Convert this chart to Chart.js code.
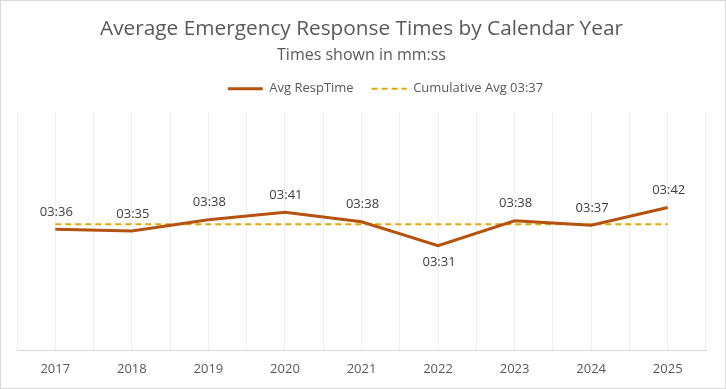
<!DOCTYPE html>
<html>
<head>
<meta charset="utf-8">
<script src="https://cdn.jsdelivr.net/npm/chart.js@4/dist/chart.umd.min.js"></script>
<style>
  html, body { margin: 0; padding: 0; background: #fff; }
  #wrap { width: 726px; height: 389px; box-sizing: border-box; border: 1px solid #d9d9d9; background: #fff; }
  #chartContainer { display: block; }
</style>
</head>
<body>
<div id="wrap"><canvas id="chartContainer" width="724" height="387"></canvas></div>
<script>
// years on the x axis
const years = ['2017', '2018', '2019', '2020', '2021', '2022', '2023', '2024', '2025'];
// average response time per year, in seconds (03:36 = 216 s)
const avgRespTime = [215.6, 215.1, 218.4, 220.6, 217.8, 210.8, 218.1, 216.8, 222.0];
// cumulative average, seconds (03:37)
const cumulativeAvg = [217.1, 217.1, 217.1, 217.1, 217.1, 217.1, 217.1, 217.1, 217.1];

const lineColor = '#b5520e';
const avgColor = '#e6a600';
const textColor = '#595959';

// seconds -> mm:ss
function fmt(sec) {
    let s = Math.round(sec);
    let m = Math.floor(s / 60);
    s = s % 60;
    return String(m).padStart(2, '0') + ':' + String(s).padStart(2, '0');
}

// draws the value labels over the main line
const valueLabels = {
    id: 'valueLabels',
    afterDatasetsDraw(chart, args, opts) {
        const ctx = chart.ctx;
        const meta = chart.getDatasetMeta(0);
        ctx.save();
        ctx.font = '13px "Open Sans", sans-serif';
        ctx.fillStyle = '#404040';
        ctx.textAlign = 'center';
        ctx.textBaseline = 'middle';
        meta.data.forEach((pt, i) => {
            let below = opts.below.includes(i);
            ctx.fillText(fmt(avgRespTime[i]), pt.x + 1, pt.y + (below ? 17 : -17));
        });
        ctx.restore();
    }
};

// legend tweaks: height under it, and nudge it right like the original
const legendSpace = {
    id: 'legendSpace',
    beforeInit(chart) {
        const origFit = chart.legend.fit;
        chart.legend.fit = function () {
            origFit.bind(chart.legend)();
            this.height += 7;
        };
    },
    afterLayout(chart) {
        chart.legend.left += 24;
        chart.legend.right += 24;
    }
};

const chart = new Chart(document.getElementById('chartContainer'), {
    type: 'line',
    data: {
        labels: years,
        datasets: [
            {
                label: 'Avg RespTime',
                data: avgRespTime,
                borderColor: lineColor,
                backgroundColor: lineColor,
                borderWidth: 3,
                pointRadius: 0,
                tension: 0,
                fill: false
            },
            {
                label: 'Cumulative Avg ' + fmt(cumulativeAvg[0]),
                data: cumulativeAvg,
                borderColor: avgColor,
                backgroundColor: avgColor,
                borderWidth: 2,
                borderDash: [6, 4],
                pointRadius: 0,
                fill: false
            }
        ]
    },
    options: {
        responsive: false,
        animation: false,
        layout: { padding: { left: 16, right: 19, top: 0, bottom: 0 } },
        scales: {
            x: {
                offset: true,
                grid: { offset: true, color: '#efefef', drawTicks: false },
                border: { color: '#d9d9d9' },
                ticks: { color: textColor, padding: 11, font: { family: '"Open Sans", sans-serif', size: 13 } }
            },
            x2: {
                type: 'category',
                labels: years,
                position: 'bottom',
                offset: true,
                grid: { offset: false, color: '#efefef', drawTicks: false },
                border: { display: false },
                ticks: { display: false }
            },
            y: {
                display: false,
                min: 180,
                max: 250
            }
        },
        plugins: {
            title: {
                display: true,
                text: 'Average Emergency Response Times by Calendar Year',
                color: textColor,
                font: { family: '"Open Sans", sans-serif', size: 20.8, weight: 'normal' },
                padding: { top: 16, bottom: 4 }
            },
            subtitle: {
                display: true,
                text: 'Times shown in mm:ss',
                color: textColor,
                font: { family: '"Open Sans", sans-serif', size: 16 },
                padding: { top: 0, bottom: -1 }
            },
            legend: {
                labels: {
                    color: textColor,
                    font: { family: '"Open Sans", sans-serif', size: 13 },
                    usePointStyle: true,
                    pointStyleWidth: 35,
                    boxHeight: 13,
                    padding: 18,
                    generateLabels(c) {
                        return c.data.datasets.map((ds, i) => ({
                            text: ds.label,
                            fontColor: textColor,
                            strokeStyle: ds.borderColor,
                            fillStyle: ds.borderColor,
                            lineWidth: ds.borderWidth,
                            lineDash: ds.borderDash || [],
                            pointStyle: 'line',
                            hidden: false,
                            datasetIndex: i
                        }));
                    }
                }
            },
            tooltip: { enabled: false },
            valueLabels: { below: [5] }
        }
    },
    plugins: [valueLabels, legendSpace]
});
</script>
</body>
</html>
